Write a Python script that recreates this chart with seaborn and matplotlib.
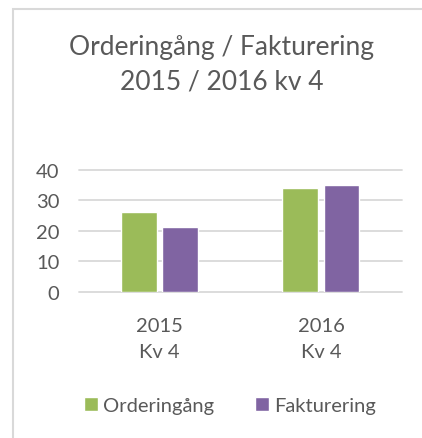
import matplotlib
matplotlib.use("Agg")
import matplotlib.pyplot as plt
import seaborn as sns
import pandas as pd
from matplotlib.patches import Rectangle

categories = ["2015\nKv 4", "2016\nKv 4"]
series = ["Orderingång", "Fakturering"]
orderingang = [26.0, 34.0]
fakturering = [21.4, 34.9]
colors = ["#9BBB59", "#8064A2"]
yticks = [0, 10, 20, 30, 40]

df = pd.DataFrame({
    "cat": categories * 2,
    "series": [series[0]] * 2 + [series[1]] * 2,
    "value": orderingang + fakturering,
})

sns.set_theme(style="white")
plt.rcParams["font.family"] = ["Lato", "DejaVu Sans"]
text_color = "#595959"

fig = plt.figure(figsize=(4.22, 4.39), dpi=100)
ax = fig.add_axes([0.1865, 0.333, 0.952 - 0.1865, 0.611 - 0.333])

sns.barplot(data=df, x="cat", y="value", hue="series", palette=colors,
            width=0.51, gap=0.13, ax=ax, legend=True, saturation=1)

ax.set_ylim(0, 40)
ax.set_yticks(yticks)
ax.set_xlabel("")
ax.set_ylabel("")
ax.yaxis.grid(True, color="#D9D9D9", linewidth=1.3)
ax.set_axisbelow(True)
for g in ax.get_ygridlines():
    g.set_clip_on(False)
for s in ax.spines.values():
    s.set_visible(False)
ax.tick_params(axis="y", length=0, pad=14, labelsize=14.5, labelcolor=text_color)
ax.tick_params(axis="x", length=0, pad=18, labelsize=14.5, labelcolor=text_color)
for lbl in ax.get_xticklabels():
    lbl.set_linespacing(1.65)

handles, labels = ax.get_legend_handles_labels()
ax.get_legend().remove()
fig.legend(handles, labels, loc="center", bbox_to_anchor=(0.545, 0.075),
           ncol=2, frameon=False, fontsize=14.5, labelcolor=text_color,
           handlelength=0.7, handleheight=0.7, handletextpad=0.25,
           columnspacing=2.0)

fig.text(0.525, 0.853, "Orderingång / Fakturering\n2015 / 2016 kv 4",
         ha="center", va="center", fontsize=19, color=text_color,
         linespacing=1.45)

fig.patches.append(Rectangle((13 / 422, -0.1), 1.2, 1 - 10 / 439 + 0.1,
                             transform=fig.transFigure, fill=False,
                             edgecolor="#D9D9D9", linewidth=1.5))

fig.savefig("out.png", dpi=100)
